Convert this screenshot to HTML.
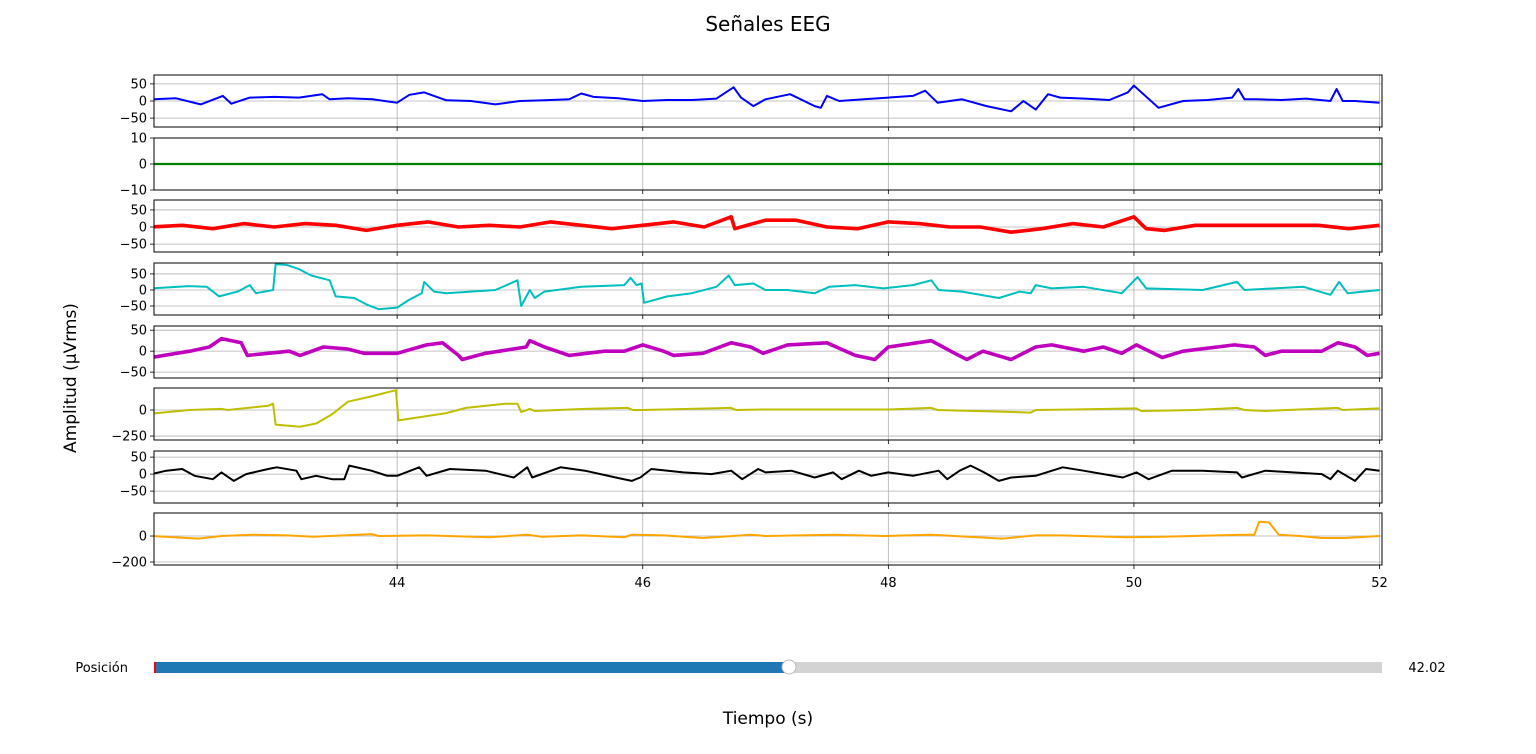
<!DOCTYPE html>
<html><head><meta charset="utf-8"><style>
body{margin:0;background:#fff;}
svg{display:block;font-family:"DejaVu Sans","Liberation Sans",sans-serif;}
</style></head><body>
<svg id="fig" width="1536" height="754" viewBox="0 0 1536 754">
<text x="768" y="31" text-anchor="middle" font-size="20">Señales EEG</text>
<text transform="translate(76,378) rotate(-90)" text-anchor="middle" font-size="17">Amplitud (µVrms)</text>
<text x="768" y="724" text-anchor="middle" font-size="17">Tiempo (s)</text>
<g>
<text x="128" y="672" text-anchor="end" font-size="13">Posición</text>
<rect x="154" y="662" width="1228" height="11" fill="#d3d3d3"/>
<rect x="154" y="662" width="635" height="11" fill="#1f77b4"/>
<rect x="154" y="662" width="2" height="11" fill="#ff0000"/>
<circle cx="789" cy="667" r="7" fill="#fff" stroke="#bbb" stroke-width="1"/>
<text x="1427" y="672" text-anchor="middle" font-size="13">42.02</text>
</g>
<g id="panels"></g>
</svg>
<script>
const xTicks = [44, 46, 48, 50, 52];
const ch1T = [42.0,42.2,42.4,42.58,42.65,42.8,43.0,43.2,43.39,43.45,43.6,43.8,44.0,44.1,44.22,44.3,44.4,44.6,44.8,45.0,45.2,45.4,45.5,45.6,45.8,46.0,46.2,46.4,46.6,46.74,46.8,46.9,47.0,47.2,47.4,47.45,47.5,47.6,47.8,48.0,48.2,48.3,48.4,48.6,48.8,49.0,49.1,49.2,49.3,49.4,49.6,49.8,49.95,50.0,50.2,50.4,50.6,50.8,50.85,50.9,51.0,51.2,51.4,51.6,51.65,51.7,51.8,52.0];
const ch1V = [5,8,-10,15,-8,10,12,10,20,5,8,5,-5,18,25,15,2,0,-10,0,2,5,22,12,8,0,3,3,7,40,10,-15,5,20,-15,-20,15,0,5,10,15,30,-5,5,-15,-30,0,-25,20,10,7,3,25,45,-20,0,3,10,35,5,5,3,7,0,35,0,0,-5];
const ch2T = [42.0, 52.02];
const ch2V = [0, 0];
const ch3T = [42.0,42.25,42.5,42.75,43.0,43.25,43.5,43.75,44.0,44.25,44.5,44.75,45.0,45.25,45.5,45.75,46.0,46.25,46.5,46.72,46.75,47.0,47.25,47.5,47.75,48.0,48.25,48.5,48.75,49.0,49.25,49.5,49.75,50.0,50.1,50.25,50.5,50.75,51.0,51.25,51.5,51.75,52.0];
const ch3V = [0,5,-5,10,0,10,5,-10,5,15,0,5,0,15,5,-5,5,15,0,30,-5,20,20,0,-5,15,10,0,0,-15,-5,10,0,30,-5,-10,5,5,5,5,5,-5,5];
const ch4T = [42.0,42.3,42.45,42.55,42.7,42.8,42.85,42.99,43.01,43.1,43.2,43.3,43.4,43.45,43.5,43.65,43.75,43.85,44.0,44.1,44.2,44.22,44.3,44.4,44.6,44.8,44.98,45.01,45.08,45.12,45.2,45.5,45.85,45.9,45.95,45.99,46.01,46.2,46.4,46.6,46.7,46.75,46.9,47.0,47.18,47.4,47.52,47.73,47.96,48.2,48.35,48.41,48.6,48.9,49.07,49.16,49.2,49.33,49.59,49.9,50.03,50.1,50.56,50.84,50.9,51.38,51.6,51.67,51.74,52.0];
const ch4V = [5,12,10,-20,-5,15,-10,0,80,78,65,45,35,30,-20,-25,-45,-60,-55,-30,-10,25,-5,-10,-5,0,30,-50,0,-25,-5,10,15,38,15,20,-40,-20,-10,10,45,15,20,0,0,-10,10,15,5,15,30,0,-5,-25,-5,-10,15,5,10,-10,40,5,0,25,0,10,-15,25,-10,0];
const ch5T = [42.0,42.31,42.47,42.57,42.73,42.78,42.95,43.12,43.21,43.4,43.6,43.73,44.0,44.24,44.37,44.5,44.53,44.72,45.05,45.08,45.2,45.4,45.69,45.85,46.0,46.17,46.25,46.49,46.72,46.88,46.98,47.18,47.5,47.73,47.89,48.0,48.35,48.54,48.64,48.77,49.0,49.2,49.33,49.59,49.75,49.9,50.02,50.23,50.4,50.82,50.98,51.07,51.2,51.53,51.66,51.8,51.9,52.0];
const ch5V = [-15,0,10,30,20,-10,-5,0,-10,10,5,-5,-5,15,20,-10,-20,-5,10,25,10,-10,0,0,15,0,-10,-5,20,10,-5,15,20,-10,-20,10,25,-5,-20,0,-20,10,15,0,10,-5,15,-15,0,15,10,-10,0,0,20,10,-10,-5];
const ch6T = [42.0,42.31,42.57,42.62,42.95,42.99,43.01,43.21,43.34,43.47,43.6,43.79,43.92,43.99,44.01,44.18,44.4,44.56,44.88,44.98,45.01,45.08,45.12,45.53,45.88,45.92,46.0,46.72,46.76,47.0,48.0,48.35,48.4,48.9,49.16,49.2,49.5,50.02,50.06,50.5,50.84,50.9,51.07,51.66,51.7,52.0];
const ch6V = [-35,0,10,0,40,60,-140,-160,-130,-40,80,130,170,190,-100,-70,-30,20,60,60,-20,10,-10,10,20,0,0,20,0,5,5,20,0,-15,-25,0,5,15,-10,0,20,0,-10,20,0,15];
const ch7T = [42.0,42.12,42.25,42.35,42.5,42.57,42.67,42.77,42.95,43.02,43.18,43.22,43.34,43.47,43.57,43.61,43.79,43.92,44.0,44.18,44.24,44.43,44.72,44.95,45.06,45.1,45.33,45.53,45.78,45.91,45.98,46.07,46.33,46.56,46.72,46.81,46.94,47.0,47.21,47.4,47.55,47.62,47.76,47.86,48.0,48.2,48.41,48.48,48.58,48.67,48.78,48.9,49.0,49.2,49.42,49.59,49.91,50.02,50.12,50.31,50.56,50.84,50.88,51.07,51.53,51.6,51.66,51.8,51.89,52.0];
const ch7V = [0,10,15,-5,-15,5,-20,0,15,20,10,-15,-5,-15,-15,25,10,-5,-5,20,-5,15,10,-10,20,-10,20,10,-10,-20,-10,15,5,0,10,-15,15,5,10,-10,5,-15,10,-5,5,-5,10,-15,10,25,5,-20,-10,-5,20,10,-10,5,-15,10,10,5,-10,10,0,-15,10,-20,15,10];
const ch8T = [42.0,42.18,42.38,42.57,42.82,43.1,43.32,43.79,43.85,44.24,44.75,45.06,45.18,45.5,45.85,45.91,46.17,46.49,46.88,47.0,47.57,47.96,48.35,48.93,49.2,49.4,49.94,50.23,50.88,50.98,51.02,51.1,51.18,51.35,51.53,51.72,52.0];
const ch8V = [0,-10,-20,0,10,5,-5,15,0,5,-10,10,-5,5,-10,10,5,-15,10,0,10,0,10,-20,5,5,-10,-5,10,10,110,105,10,0,-15,-15,0];
const yTicks = [[50,0,-50],[10,0,-10],[50,0,-50],[50,0,-50],[50,0,-50],[0,-250],[50,0,-50],[0,-200]];
const yLims = [[-76,76],[-10,10],[-73,79],[-78,84],[-64,60],[-288,211],[-85,68],[-223,177]];
const seriesT = [ch1T,ch2T,ch3T,ch4T,ch5T,ch6T,ch7T,ch8T];
const seriesV = [ch1V,ch2V,ch3V,ch4V,ch5V,ch6V,ch7V,ch8V];

const NS = "http://www.w3.org/2000/svg";
const X0 = 154, X1 = 1382, TMIN = 42.02, TMAX = 52.02;
const tops = [75,138,200,263,326,388,451,513];
const PH = 52;
const colors = ["#0000ff","#008000","#ff0000","#00bfbf","#bf00bf","#bfbf00","#000000","#ffa500"];
const widths = [2,2.2,3.6,2,3.6,2,2,2];
function xs(t){ return X0 + (t - TMIN) * (X1 - X0) / (TMAX - TMIN); }
function mk(tag, attrs){ const e = document.createElementNS(NS, tag); for (const k in attrs) e.setAttribute(k, attrs[k]); return e; }
const root = document.getElementById("panels");
for (let i = 0; i < 8; i++) {
  const top = tops[i], bot = top + PH, lim = yLims[i];
  const ys = v => bot - (v - lim[0]) / (lim[1] - lim[0]) * PH;
  const g = mk("g", {});
  
  
  const cp = mk("clipPath", {id: "cp" + i});
  cp.appendChild(mk("rect", {x: X0, y: top, width: X1 - X0, height: PH}));
  g.appendChild(cp);
  xTicks.forEach(t => {
    const x = xs(t);
    const gl = mk("line", {x1: x, x2: x, y1: top, y2: bot, stroke: "#b0b0b0", "stroke-width": 0.8});
    
    
    g.appendChild(gl);
    const tk = mk("line", {x1: x, x2: x, y1: bot, y2: bot + 4, stroke: "#000", "stroke-width": 0.8});
    
    
    g.appendChild(tk);
    if (i === 7) {
      const lb = mk("text", {x: x, y: bot + 22, "text-anchor": "middle", "font-size": 13});
      lb.textContent = String(t);
      
      
      g.appendChild(lb);
    }
  });
  yTicks[i].forEach(v => {
    const y = ys(v);
    const gl = mk("line", {x1: X0, x2: X1, y1: y, y2: y, stroke: "#b0b0b0", "stroke-width": 0.8});
    
    
    g.appendChild(gl);
    const tk = mk("line", {x1: X0 - 4, x2: X0, y1: y, y2: y, stroke: "#000", "stroke-width": 0.8});
    
    
    g.appendChild(tk);
    const lb = mk("text", {x: X0 - 7, y: y + 4.5, "text-anchor": "end", "font-size": 13});
    lb.textContent = v < 0 ? "\u2212" + Math.abs(v) : String(v);
    
    
    g.appendChild(lb);
  });
  const T = seriesT[i], V = seriesV[i];
  let d = "";
  for (let k = 0; k < T.length; k++) d += (k ? "L" : "M") + xs(T[k]).toFixed(1) + "," + ys(V[k]).toFixed(1);
  const p = mk("path", {d: d, fill: "none", stroke: colors[i], "stroke-width": widths[i], "stroke-linejoin": "round", "clip-path": "url(#cp" + i + ")"});
  
  
  g.appendChild(p);
  const fr = mk("rect", {x: X0, y: top, width: X1 - X0, height: PH, fill: "none", stroke: "#000", "stroke-width": 1});
  
  
  g.appendChild(fr);
  root.appendChild(g);
}
</script>
</body></html>
